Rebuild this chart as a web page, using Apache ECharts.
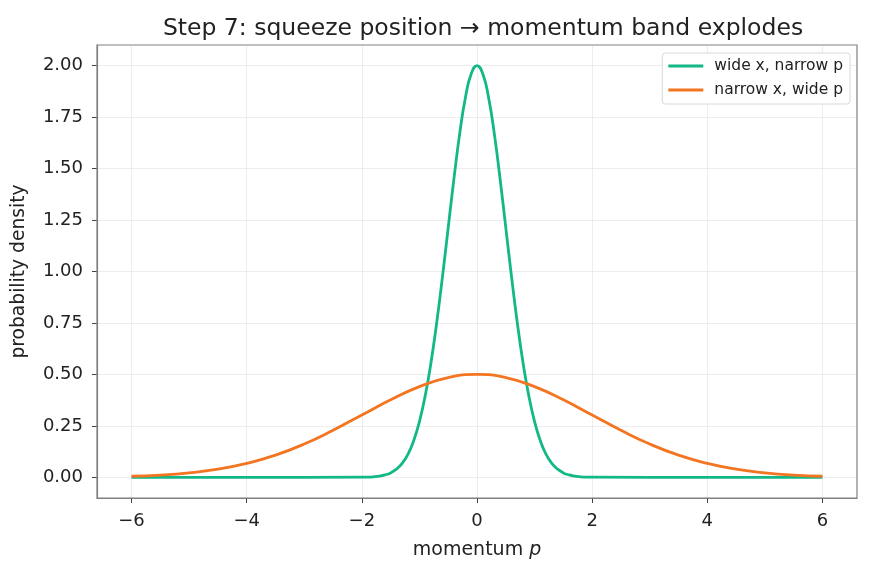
<!DOCTYPE html>
<html>
<head>
<meta charset="utf-8">
<script src="https://cdn.jsdelivr.net/npm/echarts@6/dist/echarts.min.js"></script>
<style>
  html, body { margin: 0; padding: 0; background: #fff; }
  #chart { width: 871px; height: 574px; }
</style>
</head>
<body>
<div id="chart"></div>
<script>
// values
const xTicks = [-6, -4, -2, 0, 2, 4, 6];
const yTicks = [0, 0.25, 0.5, 0.75, 1, 1.25, 1.5, 1.75, 2];

const pWide = [-6, -4, -2, -1.9, -1.8, -1.7, -1.6, -1.5, -1.4, -1.3, -1.2, -1.1, -1.0, -0.9, -0.8, -0.7, -0.6, -0.5, -0.4, -0.3, -0.2, -0.1,
  0, 0.1, 0.2, 0.3, 0.4, 0.5, 0.6, 0.7, 0.8, 0.9, 1.0, 1.1, 1.2, 1.3, 1.4, 1.5, 1.6, 1.7, 1.8, 1.9, 2, 4, 6];
const densWide = [0, 0, 0.001, 0.0014, 0.003, 0.006, 0.012, 0.022, 0.040, 0.068, 0.112, 0.178, 0.271, 0.396, 0.556, 0.751, 0.974, 1.213, 1.452, 1.671, 1.846, 1.960,
  2.000, 1.960, 1.846, 1.671, 1.452, 1.213, 0.974, 0.751, 0.556, 0.396, 0.271, 0.178, 0.112, 0.068, 0.040, 0.022, 0.012, 0.006, 0.003, 0.0014, 0.001, 0, 0];

const pNarrow = [-6, -5.5, -5, -4.5, -4, -3.5, -3, -2.5, -2, -1.5, -1, -0.5, 0, 0.5, 1, 1.5, 2, 2.5, 3, 3.5, 4, 4.5, 5, 5.5, 6];
const densNarrow = [0.0056, 0.011, 0.022, 0.040, 0.068, 0.108, 0.162, 0.229, 0.303, 0.377, 0.441, 0.485, 0.5,
  0.485, 0.441, 0.377, 0.303, 0.229, 0.162, 0.108, 0.068, 0.040, 0.022, 0.011, 0.0056];

const font = 'DejaVu Sans';
const chart = echarts.init(document.getElementById('chart'));

const option = {
  animation: false,
  color: ['#12b886', '#f47521'],
  title: {
    text: 'Step 7: squeeze position \u2192 momentum band explodes',
    left: 478, top: 12, textAlign: 'center',
    textStyle: { fontFamily: font, fontSize: 23.5, fontWeight: 'normal', color: '#222' }
  },
  legend: {
    right: 21, top: 53, orient: 'vertical',
    itemWidth: 35, itemHeight: 3, itemGap: 8,
    padding: [5, 7, 6, 6],
    borderColor: '#d8d8d8', borderWidth: 1, borderRadius: 3,
    backgroundColor: '#fff',
    icon: 'rect',
    textStyle: { fontFamily: font, fontSize: 15.5, color: '#222', padding: [0, 0, 0, 6] }
  },
  grid: { left: 97, right: 14, top: 45, bottom: 76 },
  xAxis: {
    type: 'value', min: -6.6, max: 6.6,
    name: '{a|momentum }{b|p}', nameLocation: 'middle', nameGap: 43,
    nameTextStyle: {
      rich: {
        a: { fontFamily: font, fontSize: 19, color: '#222' },
        b: { fontFamily: font, fontSize: 19, fontStyle: 'italic', color: '#222' }
      }
    },
    axisLine: { onZero: false, lineStyle: { color: '#808080', width: 1.2 } },
    axisTick: { customValues: xTicks, length: 5, lineStyle: { color: '#444' } },
    axisLabel: {
      customValues: xTicks, fontFamily: font, fontSize: 18, color: '#222', margin: 14,
      formatter: v => (v < 0 ? '\u2212' + Math.abs(v) : String(v))
    },
    splitLine: { show: true, lineStyle: { color: '#e8e8e8', width: 0.8 } }
  },
  yAxis: {
    type: 'value', min: -0.1, max: 2.1,
    name: 'probability density', nameLocation: 'middle', nameGap: 68,
    nameTextStyle: { fontFamily: font, fontSize: 18.7, color: '#222' },
    axisLine: { show: true, onZero: false, lineStyle: { color: '#808080', width: 1.2 } },
    axisTick: { show: true, customValues: yTicks, length: 5, lineStyle: { color: '#444' } },
    axisLabel: {
      customValues: yTicks, fontFamily: font, fontSize: 18, color: '#222', margin: 14,
      formatter: v => v.toFixed(2)
    },
    splitLine: { show: true, lineStyle: { color: '#e8e8e8', width: 0.8 } }
  },
  series: [
    {
      name: 'wide x, narrow p', type: 'line', showSymbol: false, smooth: 0.5,
      lineStyle: { width: 2.8 },
      data: pWide.map((p, i) => [p, densWide[i]])
    },
    {
      name: 'narrow x, wide p', type: 'line', showSymbol: false, smooth: true,
      lineStyle: { width: 2.8 },
      data: pNarrow.map((p, i) => [p, densNarrow[i]])
    }
  ],
  graphic: [{
    type: 'rect', silent: true, z: 100,
    shape: { x: 97, y: 45, width: 760, height: 453 },
    style: { fill: 'none', stroke: '#808080', lineWidth: 1.2 }
  }]
};

chart.setOption(option);
</script>
</body>
</html>
